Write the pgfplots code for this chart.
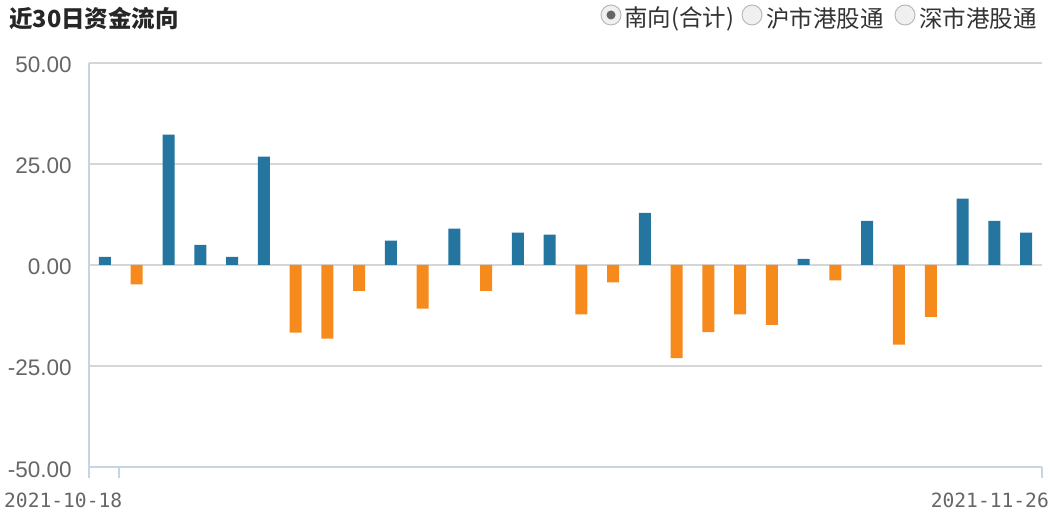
\documentclass[border=0pt]{standalone}
\usepackage{pgfplots}
\pgfplotsset{compat=1.18}
\usepackage{fontspec}
\setmainfont{Liberation Sans}
\newfontfamily\cjk{Noto Sans CJK SC}
\newfontfamily\mono{DejaVu Sans Mono}
\definecolor{barblue}{HTML}{2475A0}
\definecolor{barorange}{HTML}{F68A1C}
\definecolor{gridgray}{HTML}{D6D6D6}
\definecolor{zerogray}{HTML}{ABABAB}
\definecolor{axisblue}{HTML}{C6D4E3}
\definecolor{labelgray}{HTML}{666666}
\begin{document}
\begin{tikzpicture}[x=1pt,y=1pt]
\path[use as bounding box] (0,0) rectangle (1056,516);
\begin{axis}[
  at={(89.1pt,48.7pt)}, anchor=south west,
  scale only axis, width=952.8pt, height=404.6pt,
  xmin=-0.5, xmax=29.5, ymin=-50, ymax=50,
  axis x line*=bottom, axis y line*=left,
  axis line style={axisblue, line width=2pt},
  xtick={-0.5,0.44,29.5}, xticklabels={},
  x tick style={axisblue, line width=1.5pt},
  major tick length=11pt, tick align=outside,
  ytick={-50,-25,0,25,50},
  y tick style={draw=none},
  ymajorgrids, major grid style={gridgray, line width=2pt},
  extra y ticks={0}, extra y tick labels={},
  extra y tick style={grid style={zerogray, line width=2pt}, tick style={draw=none}},
  yticklabel style={font=\fontsize{22.5}{22.5}\selectfont, text=labelgray, xshift=-3pt, yshift=-2pt,
    /pgf/number format/fixed, /pgf/number format/fixed zerofill,
    /pgf/number format/precision=2, /pgf/number format/assume math mode=true},
  clip=false,
]
\addplot[ybar, bar width=12pt, bar shift=0pt, fill=barblue, draw=none] coordinates {
(0,2.0)(2,32.2)(3,5.0)(4,2.0)(5,26.8)(9,6.0)(11,9.0)(13,8.0)(14,7.5)(17,12.9)
(22,1.5)(24,10.9)(27,16.4)(28,10.9)(29,8.0)};
\addplot[ybar, bar width=12pt, bar shift=0pt, fill=barorange, draw=none] coordinates {
(1,-4.8)(6,-16.7)(7,-18.2)(8,-6.4)(10,-10.8)(12,-6.4)(15,-12.2)(16,-4.3)
(18,-23.0)(19,-16.6)(20,-12.2)(21,-14.8)(23,-3.8)(25,-19.7)(26,-12.8)};
\end{axis}
% title
\node[anchor=west, inner sep=0pt, font=\cjk\bfseries\fontsize{23.5}{23.5}\selectfont, text=black!85] at (9,498) {近30日资金流向};
% radio buttons
\draw[gray!55, line width=1pt, fill=gray!12] (611,501) circle (10);
\fill[black!60] (611,501) circle (4.5);
\node[anchor=west, inner sep=0pt, font=\cjk\fontsize{23.5}{23.5}\selectfont, text=black!80] at (624,497) {南向(合计)};
\draw[gray!55, line width=1pt, fill=gray!12] (752,501) circle (10);
\node[anchor=west, inner sep=0pt, font=\cjk\fontsize{23.5}{23.5}\selectfont, text=black!80] at (766,497) {沪市港股通};
\draw[gray!55, line width=1pt, fill=gray!12] (905,501) circle (10);
\node[anchor=west, inner sep=0pt, font=\cjk\fontsize{23.5}{23.5}\selectfont, text=black!80] at (919,497) {深市港股通};
% date labels
\node[anchor=west, inner sep=0pt, font=\mono\fontsize{19.6}{20}\selectfont, text=labelgray] at (4,16) {2021-10-18};
\node[anchor=east, inner sep=0pt, font=\mono\fontsize{19.6}{20}\selectfont, text=labelgray] at (1049,16) {2021-11-26};
\end{tikzpicture}
\end{document}
